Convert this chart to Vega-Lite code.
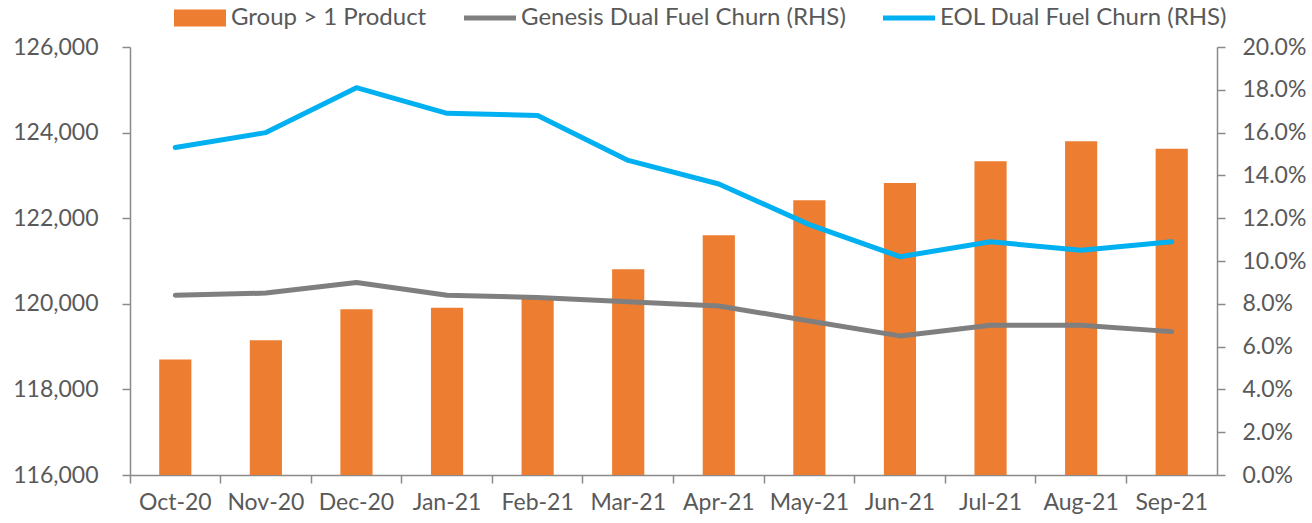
{
  "$schema": "https://vega.github.io/schema/vega-lite/v6.json",
  "width": 1087,
  "height": 428,
  "autosize": {"type": "none"},
  "padding": {"left": 130, "top": 47, "right": 95, "bottom": 48},
  "background": "#ffffff",
  "config": {
    "font": "Lato",
    "view": {"stroke": null},
    "axis": {
      "labelFont": "Lato",
      "labelFontSize": 23,
      "labelColor": "#595959",
      "domainColor": "#8a8a8a",
      "tickColor": "#8a8a8a",
      "domainWidth": 1.5,
      "tickWidth": 1.5,
      "grid": false,
      "title": null
    }
  },
  "data": {
    "values": [
      {"month": "Oct-20", "group": 118700, "genesis": 0.084, "eol": 0.153},
      {"month": "Nov-20", "group": 119150, "genesis": 0.085, "eol": 0.160},
      {"month": "Dec-20", "group": 119870, "genesis": 0.090, "eol": 0.181},
      {"month": "Jan-21", "group": 119910, "genesis": 0.084, "eol": 0.169},
      {"month": "Feb-21", "group": 120130, "genesis": 0.083, "eol": 0.168},
      {"month": "Mar-21", "group": 120810, "genesis": 0.081, "eol": 0.147},
      {"month": "Apr-21", "group": 121600, "genesis": 0.079, "eol": 0.136},
      {"month": "May-21", "group": 122420, "genesis": 0.072, "eol": 0.117},
      {"month": "Jun-21", "group": 122820, "genesis": 0.065, "eol": 0.102},
      {"month": "Jul-21", "group": 123330, "genesis": 0.070, "eol": 0.109},
      {"month": "Aug-21", "group": 123800, "genesis": 0.070, "eol": 0.105},
      {"month": "Sep-21", "group": 123620, "genesis": 0.067, "eol": 0.109}
    ]
  },
  "encoding": {
    "x": {
      "field": "month",
      "type": "ordinal",
      "sort": null,
      "scale": {"paddingInner": 0, "paddingOuter": 0},
      "axis": {"bandPosition": 0, "labelAngle": 0, "tickSize": 8, "labelPadding": 8, "labelBaseline": "top"}
    }
  },
  "layer": [
    {
      "mark": {"type": "bar", "width": {"band": 0.355}, "clip": true},
      "encoding": {
        "y": {
          "field": "group",
          "type": "quantitative",
          "scale": {"domain": [116000, 126000], "zero": false, "nice": false},
          "axis": {
            "orient": "left",
            "values": [116000, 118000, 120000, 122000, 124000, 126000],
            "format": ",d",
            "tickSize": 8,
            "labelPadding": 24
          }
        },
        "color": {
          "datum": "Group > 1 Product",
          "type": "nominal",
          "scale": {
            "domain": ["Group > 1 Product", "Genesis Dual Fuel Churn (RHS)", "EOL Dual Fuel Churn (RHS)"],
            "range": ["#ED7D31", "#7F7F7F", "#00B0F0"]
          },
          "legend": {
            "orient": "none",
            "legendX": 44,
            "legendY": -55,
            "direction": "horizontal",
            "title": null,
            "padding": 0,
            "labelFont": "Lato",
            "labelFontSize": 24,
            "labelLimit": 0,
            "labelColor": "#595959",
            "labelOffset": 5,
            "columnPadding": 37,
            "symbolSize": 2704,
            "symbolStrokeWidth": 0,
            "encode": {
              "symbols": {
                "update": {
                  "shape": {"signal": "datum.value === 'Group > 1 Product' ? 'M-1,-0.33H1V0.33H-1Z' : 'M-1,-0.1H1V0.1H-1Z'"}
                }
              }
            }
          }
        }
      }
    },
    {
      "layer": [
        {
          "mark": {"type": "line", "color": "#7F7F7F", "strokeWidth": 5, "strokeCap": "round", "strokeJoin": "round"},
          "encoding": {
            "y": {
              "field": "genesis",
              "type": "quantitative",
              "scale": {"domain": [0, 0.2], "nice": false},
              "axis": {
                "orient": "right",
                "values": [0, 0.02, 0.04, 0.06, 0.08, 0.1, 0.12, 0.14, 0.16, 0.18, 0.2],
                "format": ".1%",
                "tickSize": 8,
                "labelPadding": 17
              }
            }
          }
        },
        {
          "mark": {"type": "line", "color": "#00B0F0", "strokeWidth": 5, "strokeCap": "round", "strokeJoin": "round"},
          "encoding": {
            "y": {
              "field": "eol",
              "type": "quantitative",
              "axis": {
                "orient": "right",
                "values": [0, 0.02, 0.04, 0.06, 0.08, 0.1, 0.12, 0.14, 0.16, 0.18, 0.2],
                "format": ".1%",
                "tickSize": 8,
                "labelPadding": 17
              }
            }
          }
        }
      ]
    }
  ],
  "resolve": {"scale": {"y": "independent"}}
}
